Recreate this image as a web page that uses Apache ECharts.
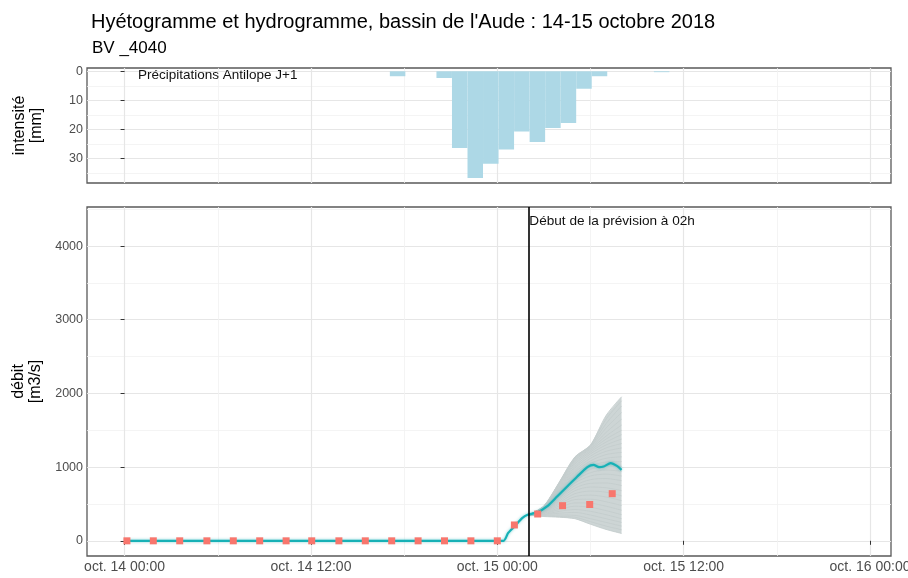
<!DOCTYPE html>
<html>
<head>
<meta charset="utf-8">
<title>Hyétogramme et hydrogramme</title>
<script src="https://cdn.jsdelivr.net/npm/echarts/dist/echarts.min.js"></script>
<style>
  html, body { margin: 0; padding: 0; background: #fff; }
  #main { width: 908px; height: 578px; }
</style>
</head>
<body>
<div id="main"></div>
<script>
// temps en heures depuis le 14 octobre 2018 00:00
const xTickHours = [0, 12, 24, 36, 48];
const xTickLabels = ['oct. 14 00:00', 'oct. 14 12:00', 'oct. 15 00:00', 'oct. 15 12:00', 'oct. 16 00:00'];
const xMinorHours = [6, 18, 30, 42];

// hyétogramme : début de chaque pas horaire, lame d'eau (mm)
const rainStartHour = [17, 20, 21, 22, 23, 24, 25, 26, 27, 28, 29, 30, 34];
const rainMm = [1.7, 2.3, 26.4, 36.7, 31.8, 26.9, 20.7, 24.3, 19.5, 17.8, 6.0, 1.7, 0.3];

// débits observés (m3/s)
const obsHours = [0.15, 1.85, 3.55, 5.3, 7.0, 8.7, 10.4, 12.05, 13.8, 15.5, 17.2, 18.9, 20.6, 22.3, 24.0, 25.1, 26.6, 28.2, 29.95, 31.4];
const obsQ = [0, 0, 0, 0, 0, 0, 0, 0, 0, 0, 0, 0, 0, 0, 0, 215, 364, 477, 493, 640];

// simulation de référence
const simHours = [0, 24.4, 24.7, 25.1, 25.6, 25.95, 26.6, 27.2, 27.85, 28.5, 29.15, 29.8, 30.2, 30.55, 30.85, 31.3, 31.7, 32];
const simQ = [0, 0, 108, 194, 307, 353, 389, 466, 601, 737, 872, 1000, 1031, 1000, 1008, 1054, 1017, 963];

// prévision d'ensemble (membres), pas horaire à partir de 02h
const ensHours = [26, 27, 28, 29, 30, 31, 32];
const ensMembers = [
  [350, 330, 320, 300, 225, 155, 100],
  [350, 335, 330, 320, 260, 200, 150],
  [350, 345, 350, 345, 300, 250, 200],
  [350, 355, 375, 385, 350, 300, 250],
  [350, 360, 400, 425, 400, 355, 300],
  [350, 370, 425, 470, 455, 410, 355],
  [350, 375, 450, 515, 510, 470, 415],
  [350, 385, 475, 560, 565, 530, 480],
  [350, 390, 500, 600, 620, 595, 545],
  [350, 395, 520, 640, 675, 660, 610],
  [350, 400, 540, 680, 730, 720, 680],
  [350, 405, 560, 715, 780, 785, 750],
  [350, 410, 580, 750, 830, 845, 815],
  [350, 415, 600, 785, 880, 905, 880],
  [350, 420, 615, 815, 925, 960, 945],
  [350, 425, 630, 845, 970, 1015, 1010],
  [350, 430, 645, 875, 1010, 1070, 1075],
  [350, 435, 660, 900, 1050, 1120, 1140],
  [350, 440, 675, 930, 1085, 1170, 1200],
  [350, 445, 690, 955, 1120, 1215, 1260],
  [350, 450, 705, 985, 1150, 1260, 1320],
  [350, 455, 720, 1010, 1180, 1300, 1380],
  [350, 458, 735, 1040, 1205, 1340, 1440],
  [350, 462, 750, 1065, 1225, 1380, 1500],
  [350, 465, 765, 1090, 1245, 1420, 1570],
  [350, 467, 775, 1105, 1260, 1470, 1650],
  [350, 469, 785, 1120, 1275, 1530, 1740],
  [350, 470, 790, 1130, 1285, 1590, 1830],
  [350, 471, 795, 1135, 1295, 1650, 1900],
  [350, 472, 800, 1140, 1300, 1700, 1955]
];
const ensLow = [350, 330, 320, 300, 225, 155, 100];
const ensHigh = [350, 472, 800, 1140, 1300, 1700, 1955];

const forecastStart = 26;
const qTicks = [0, 1000, 2000, 3000, 4000];
const qMinor = [500, 1500, 2500, 3500, 4500];
const mmTicks = [0, 10, 20, 30];
const mmMinor = [5, 15, 25, 35];

const FONT = 'Liberation Sans, Arial, sans-serif';
const X_MIN = -2.42, X_MAX = 49.35;

function pairs(xs, ys) { return xs.map((x, i) => [x, ys[i]]); }

function xAx(grid, ticks, main, labels) {
  return {
    type: 'value', gridIndex: grid, min: X_MIN, max: X_MAX,
    position: main ? 'bottom' : 'top',
    axisLine: { show: false },
    axisTick: { show: labels, customValues: ticks, length: 4, lineStyle: { color: '#333', width: 1 } },
    axisLabel: {
      show: labels, customValues: ticks, color: '#4d4d4d', fontSize: 14, fontFamily: FONT, margin: 4,
      formatter: v => xTickLabels[xTickHours.indexOf(v)] || ''
    },
    splitLine: { show: true, lineStyle: { color: main ? '#e6e6e6' : '#f1f1f1', width: main ? 1.2 : 0.8 } }
  };
}

function yAx(grid, ticks, main, opts) {
  return Object.assign({
    type: 'value', gridIndex: grid,
    position: main ? 'left' : 'right',
    axisLine: { show: false },
    axisTick: { show: main, customValues: ticks, length: 4, lineStyle: { color: '#333', width: 1 } },
    axisLabel: { show: main, customValues: ticks, color: '#4d4d4d', fontSize: 12.5, fontFamily: FONT, margin: 4,
      formatter: v => String(v) },
    splitLine: { show: true, lineStyle: { color: main ? '#e6e6e6' : '#f1f1f1', width: main ? 1.2 : 0.8 } }
  }, opts);
}

const nameStyle = { fontSize: 16, color: '#000', fontFamily: FONT, lineHeight: 17 };

const series = [];

series.push({
  name: 'Précipitations', type: 'bar', xAxisIndex: 0, yAxisIndex: 0,
  data: pairs(rainStartHour.map(h => h + 0.58), rainMm),
  barWidth: 15.5,
  itemStyle: { color: '#add8e6' },
  silent: true
});

// enveloppe de l'ensemble (min / max des membres)
series.push({
  type: 'custom', xAxisIndex: 2, yAxisIndex: 2, silent: true, z: 1,
  data: [[ensHours[0], ensLow[0]]],
  renderItem: (params, api) => {
    const top = ensHours.map((h, i) => api.coord([h, ensHigh[i]]));
    const bottom = ensHours.map((h, i) => api.coord([h, ensLow[i]])).reverse();
    return { type: 'polygon', shape: { points: top.concat(bottom) }, style: { fill: '#cdd5d5' } };
  }
});

ensMembers.forEach(m => {
  series.push({
    type: 'line', xAxisIndex: 2, yAxisIndex: 2, smooth: 0.3,
    data: pairs(ensHours, m), symbol: 'none',
    lineStyle: { color: '#c4cdcd', width: 0.9 }, silent: true, z: 2
  });
});

series.push({
  name: 'Simulation', type: 'line', xAxisIndex: 2, yAxisIndex: 2, smooth: 0.2,
  data: pairs(simHours, simQ), symbol: 'none',
  lineStyle: { color: '#17b1b6', width: 2.2, shadowColor: 'rgba(0,170,175,0.5)', shadowBlur: 3 },
  silent: true, z: 3
});

series.push({
  name: 'Observé', type: 'scatter', xAxisIndex: 2, yAxisIndex: 2,
  data: pairs(obsHours, obsQ), symbol: 'rect', symbolSize: 7,
  itemStyle: { color: '#f8766d', opacity: 1 }, silent: true, z: 4,
  markLine: {
    silent: true, symbol: 'none', animation: false,
    label: { show: false },
    lineStyle: { color: '#000', width: 1.6, type: 'solid' },
    data: [{ xAxis: forecastStart }]
  }
});

const chart = echarts.init(document.getElementById('main'), null, { renderer: 'canvas' });
chart.setOption({
  animation: false,
  backgroundColor: '#fff',
  textStyle: { fontFamily: FONT },
  title: [
    { text: "Hyétogramme et hydrogramme, bassin de l'Aude : 14-15 octobre 2018", left: 86, top: 7,
      textStyle: { fontSize: 20, fontWeight: 'normal', color: '#000', fontFamily: FONT } },
    { text: 'BV _4040', left: 87, top: 35,
      textStyle: { fontSize: 17, fontWeight: 'normal', color: '#000', fontFamily: FONT } }
  ],
  grid: [
    { left: 87, top: 68, width: 804, height: 115, show: true, borderColor: '#595959', borderWidth: 1.3,
      backgroundColor: 'transparent', containLabel: false, outerBoundsMode: 'none' },
    { left: 87, top: 207, width: 804, height: 349, show: true, borderColor: '#595959', borderWidth: 1.3,
      backgroundColor: 'transparent', containLabel: false, outerBoundsMode: 'none' }
  ],
  xAxis: [
    xAx(0, xTickHours, true, false),
    xAx(0, xMinorHours, false, false),
    xAx(1, xTickHours, true, true),
    xAx(1, xMinorHours, false, false)
  ],
  yAxis: [
    yAx(0, mmTicks, true, { inverse: true, min: -1.13, max: 38.4, name: 'intensité\n[mm]', nameLocation: 'middle', nameRotate: 90, nameGap: 42, nameTextStyle: nameStyle }),
    yAx(0, mmMinor, false, { inverse: true, min: -1.13, max: 38.4 }),
    yAx(1, qTicks, true, { min: -206, max: 4530, name: 'débit\n[m3/s]', nameLocation: 'middle', nameRotate: 90, nameGap: 42, nameTextStyle: nameStyle }),
    yAx(1, qMinor, false, { min: -206, max: 4530 })
  ],
  series: series
});

const pLabel = chart.convertToPixel({ xAxisIndex: 2, yAxisIndex: 2 }, [forecastStart, 4330]);
chart.setOption({
  graphic: [
    { type: 'text', left: 138, top: 68,
      style: { text: 'Précipitations Antilope J+1', font: '13.5px ' + FONT, fill: '#111' } },
    { type: 'text', x: pLabel[0] + 1, y: pLabel[1],
      style: { text: 'Début de la prévision à 02h', font: '13.6px ' + FONT, fill: '#111', verticalAlign: 'middle' } }
  ]
});
</script>
</body>
</html>
